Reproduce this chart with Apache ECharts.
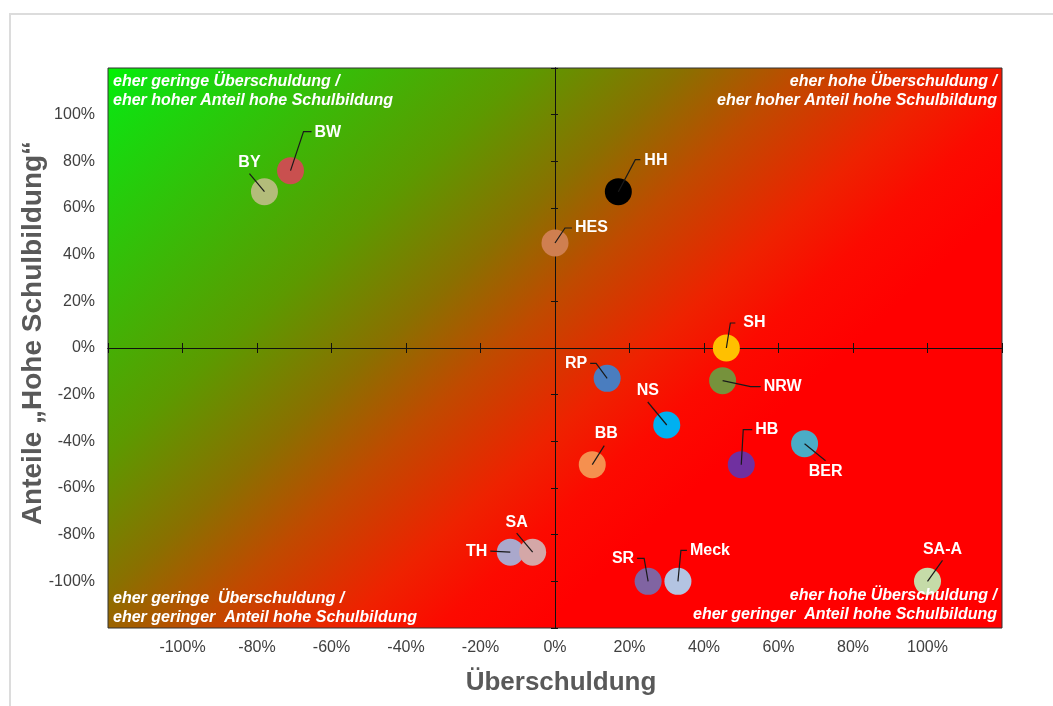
<!DOCTYPE html>
<html><head><meta charset="utf-8">
<script src="https://cdn.jsdelivr.net/npm/echarts@6/dist/echarts.min.js"></script>
<style>
html,body{margin:0;padding:0;background:#fff;overflow:hidden;}
#frame{position:absolute;left:9px;top:13px;width:1070px;height:720px;border:2px solid #dcdcdc;box-sizing:border-box;}
#chart{position:absolute;left:0;top:0;width:1053px;height:706px;}
</style></head><body>
<div id="frame"></div>
<div id="chart"></div>
<script>
// ---- data ----
const names      = ['BY','BW','HH','HES','SH','RP','NRW','NS','BB','HB','BER','TH','SA','SR','Meck','SA-A'];
const overDebt   = [-0.78,-0.71,0.17,0.00,0.46,0.14,0.45,0.30,0.10,0.50,0.67,-0.12,-0.06,0.25,0.33,1.00];
const highEdu    = [0.67,0.76,0.67,0.45,0.00,-0.13,-0.14,-0.33,-0.50,-0.50,-0.41,-0.875,-0.875,-1.00,-1.00,-1.00];
const axisMin = -1.2, axisMax = 1.2, axisStep = 0.2;
const xTitle = 'Überschuldung';
const yTitle = 'Anteile „Hohe Schulbildung“';
const quadrantTexts = {
  tl: 'eher geringe Überschuldung /\neher hoher Anteil hohe Schulbildung',
  tr: 'eher hohe Überschuldung /\neher hoher Anteil hohe Schulbildung',
  bl: 'eher geringe  Überschuldung /\neher geringer  Anteil hohe Schulbildung',
  br: 'eher hohe Überschuldung /\neher geringer  Anteil hohe Schulbildung'
};

// ---- styles ----
const pointColors = {
  'BY':'#b3bc7a','BW':'#c9504f','HH':'#000000','HES':'#cf7f50','SH':'#ffc000','RP':'#4a7dbf',
  'NRW':'#76923c','NS':'#00b0f0','BB':'#f5904f','HB':'#7030a0','BER':'#4bacc6','TH':'#aaa8cc',
  'SA':'#d4a7a7','SR':'#8064a2','Meck':'#b3c4e2','SA-A':'#c5dba8'
};
// leader line (pixel offsets from marker centre) and label anchor
const leaders = {
  'BY':  {line:[[-15,-18]], text:[-15,-29], align:'center'},
  'BW':  {line:[[13,-39],[21,-39]], text:[24,-38], align:'left'},
  'HH':  {line:[[17,-32],[22,-32]], text:[26,-31], align:'left'},
  'HES': {line:[[10,-15],[17,-15]], text:[20,-15], align:'left'},
  'SH':  {line:[[4,-25],[9,-25]], text:[17,-25], align:'left'},
  'RP':  {line:[[-11,-15],[-17,-15]], text:[-20,-15], align:'right'},
  'NRW': {line:[[28,6],[38,6]], text:[41,6], align:'left'},
  'NS':  {line:[[-19,-23]], text:[-19,-34], align:'center'},
  'BB':  {line:[[12,-19]], text:[14,-31], align:'center'},
  'HB':  {line:[[2,-35],[11,-35]], text:[14,-35], align:'left'},
  'BER': {line:[[21,17]], text:[21,28], align:'center'},
  'TH':  {line:[[-20,-1]], text:[-23,-1], align:'right'},
  'SA':  {line:[[-16,-19]], text:[-16,-30], align:'center'},
  'SR':  {line:[[-4,-23],[-11,-23]], text:[-14,-23], align:'right'},
  'Meck':{line:[[3,-31],[9,-31]], text:[12,-31], align:'left'},
  'SA-A':{line:[[15,-21]], text:[15,-32], align:'center'}
};
const FONT = '"Liberation Sans", Arial, sans-serif';
const pct = v => (Math.abs(v) > 1.0001 ? '' : Math.round(v * 100) + '%');

const pts = names.map((n, i) => [overDebt[i], highEdu[i]]);

const chart = echarts.init(document.getElementById('chart'), null, {renderer:'canvas'});

const G = {left:108, top:68, width:894, height:560};

const baseAxis = {type:'value', min:axisMin, max:axisMax, interval:axisStep, splitLine:{show:false}};
const tickAxis = (pos, inside, len) => Object.assign({}, baseAxis, {
  position: pos,
  axisLine:{show:true, onZero:true, lineStyle:{color:'#111', width:1}},
  axisTick:{show:true, inside:inside, length:len, lineStyle:{color:'#111', width:1}},
  axisLabel:{show:false}
});

// diagonal gradient (pixel space, direction 1 : 1.1) from the plot's top-left corner
const kY = 1.1, sEnd = 1500, a = sEnd / (1 + kY * kY);
const bg = new echarts.graphic.LinearGradient(G.left, G.top, G.left + a, G.top + kY * a, [
  {offset:0, color:'#00f400'},
  {offset:0.032, color:'#10e010'},
  {offset:0.281, color:'#5c9a00'},
  {offset:0.385, color:'#8a7000'},
  {offset:0.467, color:'#c04a00'},
  {offset:0.565, color:'#ee2200'},
  {offset:0.63, color:'#fc0a00'},
  {offset:0.7, color:'#ff0000'},
  {offset:1, color:'#ff0000'}
], true);

const option = {
  animation:false,
  backgroundColor:'transparent',
  grid:Object.assign({}, G, {show:true, borderColor:'#333', borderWidth:1, backgroundColor:bg}),
  xAxis:[
    Object.assign({}, baseAxis, {
      position:'bottom',
      axisLine:{show:false, onZero:false}, axisTick:{show:false},
      axisLabel:{formatter:pct, color:'#404040', fontSize:16, fontFamily:FONT, margin:12},
      name:xTitle, nameLocation:'middle', nameGap:42, nameMoveOverlap:false,
      nameTextStyle:{color:'#595959', fontSize:26, fontWeight:'bold', fontFamily:FONT, padding:[0,0,0,12]}
    }),
    tickAxis('bottom', false, 5),
    tickAxis('bottom', true, 5)
  ],
  yAxis:[
    Object.assign({}, baseAxis, {
      position:'left',
      axisLine:{show:false, onZero:false}, axisTick:{show:false},
      axisLabel:{formatter:pct, color:'#404040', fontSize:16, fontFamily:FONT, margin:13},
      name:yTitle, nameLocation:'middle', nameGap:61, nameRotate:90, nameMoveOverlap:false,
      nameTextStyle:{color:'#595959', fontSize:28, fontWeight:'bold', fontFamily:FONT, padding:[0,0,0,30]}
    }),
    tickAxis('left', false, 4),
    tickAxis('left', true, 3)
  ],
  series:[
    {
      type:'scatter', xAxisIndex:0, yAxisIndex:0, symbolSize:27, z:3,
      data: pts.map((p, i) => ({value:p, name:names[i], itemStyle:{color:pointColors[names[i]], opacity:1}})),
      emphasis:{disabled:true}, silent:true
    },
    {
      type:'custom', xAxisIndex:0, yAxisIndex:0, z:5, clip:false, silent:true,
      data: pts,
      renderItem: function(params, api){
        const name = names[params.dataIndex];
        const c = api.coord([api.value(0), api.value(1)]);
        const l = leaders[name];
        const poly = [[c[0], c[1]]].concat(l.line.map(p => [c[0]+p[0], c[1]+p[1]]));
        return {type:'group', children:[
          {type:'polyline', shape:{points:poly}, style:{stroke:'#1a1a1a', lineWidth:1.2, fill:null}},
          {type:'text', x:c[0]+l.text[0], y:c[1]+l.text[1],
            style:{text:name, fill:'#ffffff', font:'bold 16px ' + FONT, align:l.align, verticalAlign:'middle'}}
        ]};
      }
    }
  ],
  graphic:[
    {type:'text', x:113, y:72, z:100, silent:true, style:{text:quadrantTexts.tl, fill:'#fff', font:'italic bold 16px ' + FONT, lineHeight:19, align:'left', verticalAlign:'top'}},
    {type:'text', x:997, y:72, z:100, silent:true, style:{text:quadrantTexts.tr, fill:'#fff', font:'italic bold 16px ' + FONT, lineHeight:19, align:'right', verticalAlign:'top'}},
    {type:'text', x:113, y:589, z:100, silent:true, style:{text:quadrantTexts.bl, fill:'#fff', font:'italic bold 16px ' + FONT, lineHeight:19, align:'left', verticalAlign:'top'}},
    {type:'text', x:997, y:586, z:100, silent:true, style:{text:quadrantTexts.br, fill:'#fff', font:'italic bold 16px ' + FONT, lineHeight:19, align:'right', verticalAlign:'top'}}
  ]
};
chart.setOption(option);
</script>
</body></html>
